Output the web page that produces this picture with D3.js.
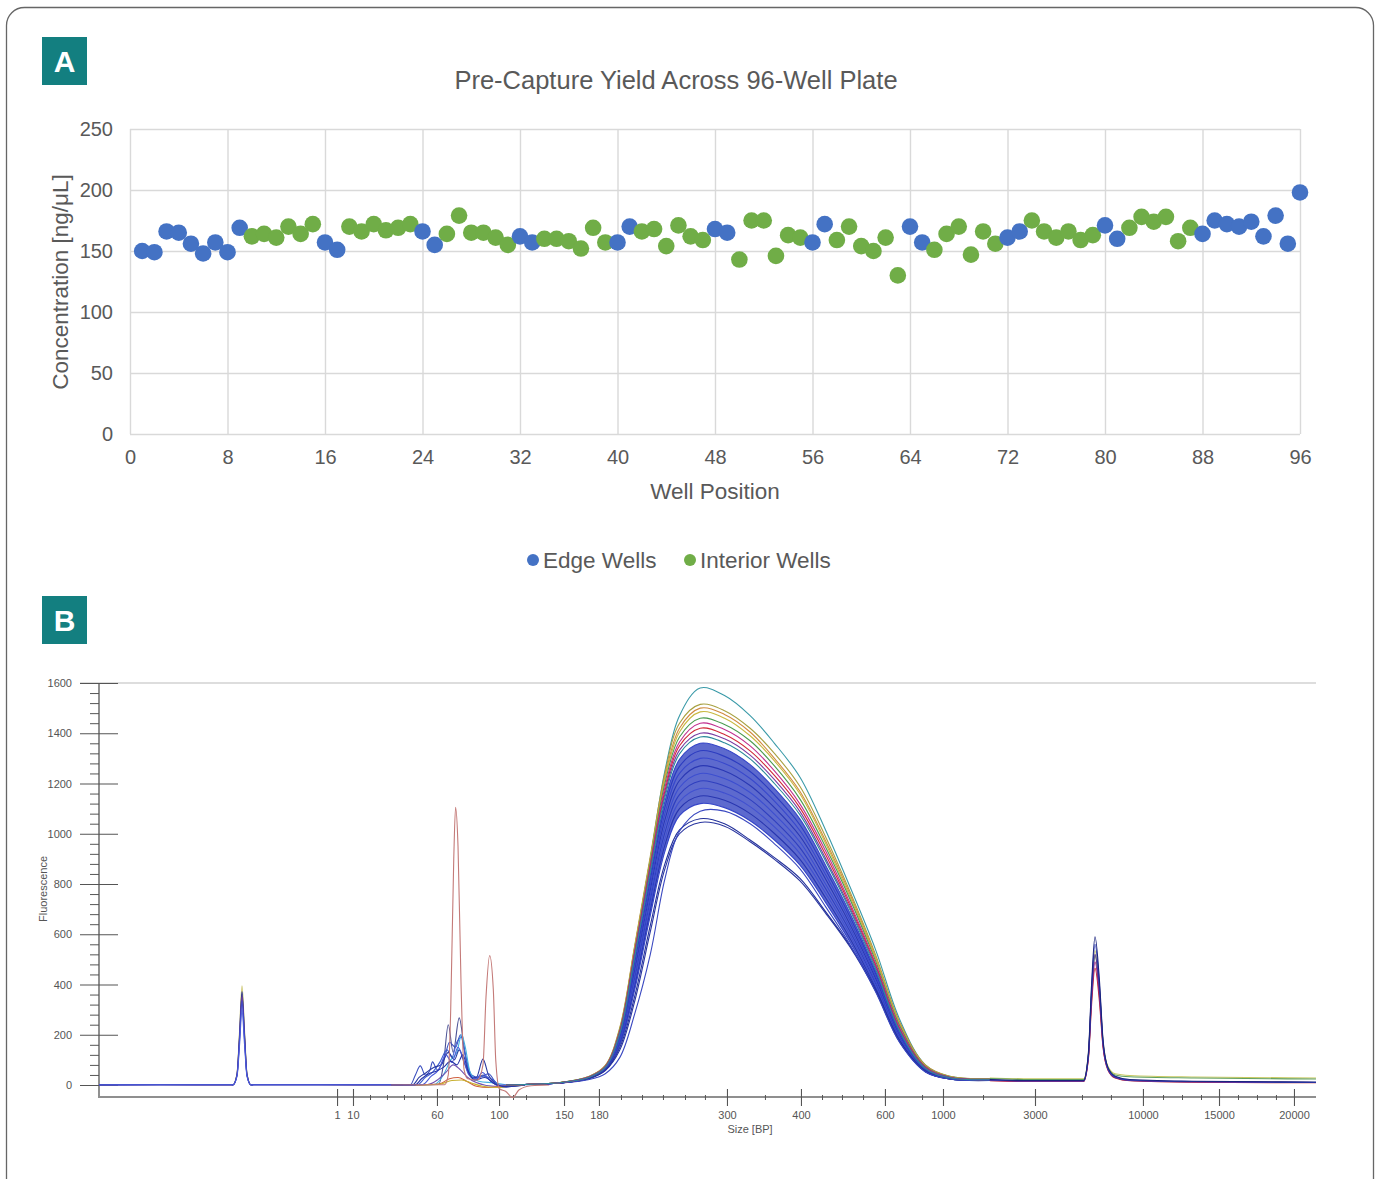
<!DOCTYPE html>
<html><head><meta charset="utf-8">
<script src="https://cdn.jsdelivr.net/npm/d3@7"></script>
<style>body{margin:0;background:#fff}svg{display:block}</style>
</head><body><svg id="c" width="1382" height="1179"></svg>
<script>
// ---------- Panel A data ----------
const wellTicks = [0,8,16,24,32,40,48,56,64,72,80,88,96];
const concTicks = [0,50,100,150,200,250];
const concentrations = [150,149,166,165,156,148,157,149,169, 162,164,161,170,164,172, 157,151,
  170,166,172,167,169,172, 166,155, 164,179,165,165,161,155, 162,157, 160,160,158,152,169,157,
  157,170, 166,168,154,171,162,159, 168,165, 143,175,175,146,163,161, 157,172,
  159,170,154,150,161,130, 170,157, 151,164,170,147,166,156, 161,166,
  175,166,161,166,159,163, 171,160, 169,178,174,178,158,169,
  164,175,172,170,174,162,179,156,198];
const edgeWells = [1,2,3,4,5,6,7,8,9,16,17,24,25,32,33,40,41,48,49,56,57,64,65,72,73,80,81,88,89,90,91,92,93,94,95,96];
const seriesNames = ["Edge Wells","Interior Wells"];

// ---------- Panel B data ----------
const ladderSizes = ["1","10","60","100","150","180","300","400","600","1000","3000","10000","15000","20000"];
const ladderTimes = [19.56,20.87,27.77,32.87,38.21,41.08,51.6,57.68,64.58,69.35,76.91,85.78,92.03,98.19];
const minorTimes = [22.27,23.66,25.06,26.46,29.01,30.32,31.88,34.02,35.09,42.89,44.62,46.34,48.15,49.79,
  54.72,59.41,61.05,62.78,67.63,72.64,80.77,83.15,87.43,88.99,90.55,93.59,95.15,96.71];
const fluorTicks = [0,200,400,600,800,1000,1200,1400,1600];

// lower marker traces
const lmT = [0,5,10.9,11.0,11.34,11.55,11.75,11.96,12.16,12.49,12.7,18,24,26];
const lmValues = [
  [1,2,1,0,45,215,395,215,45,0,2,2,1,1],
  [1,1,1,0,42,200,372,200,42,0,1,1,1,1],
  [0,1,0,0,40,190,355,190,40,0,1,1,0,0],
  [1,1,1,0,38,180,335,180,38,0,1,1,1,1],
  [0,1,1,0,34,160,300,160,34,0,1,1,1,1]
];
const lmColors = ["#c8c060","#1d2a8a","#6a3a9a","#3344cc","#4a5ad8"];

// primer-dimer region traces [time, fluorescence]
const dimerTraces = [
  [[24,0],[27.9,2],[28.3,80],[28.7,240],[29.1,130],[29.6,267],[30.0,150],[30.4,50],[30.9,20],[31.55,40],[32.2,15],[32.9,-5],[34,0]],
  [[24,0],[25.6,2],[26.0,40],[26.4,76],[26.8,40],[27.2,60],[27.4,92],[27.8,60],[28.4,110],[28.8,170],[29.3,150],[29.7,200],[30.1,120],[30.6,40],[31.2,30],[32.0,45],[32.6,10],[33.2,-8],[34.5,0]],
  [[24,0],[26.2,2],[26.8,30],[27.4,50],[28.0,90],[28.6,140],[29.0,110],[29.4,170],[29.8,190],[30.2,90],[30.8,30],[31.6,35],[32.4,20],[33.0,-5],[34.5,0]],
  [[25,0],[27.5,2],[28.3,40],[28.9,100],[29.4,130],[29.8,200],[30.1,150],[30.5,50],[31.2,15],[32.5,8],[33.5,0]],
  [[24,0],[25.8,2],[26.3,30],[26.9,50],[27.5,70],[28.1,80],[28.7,130],[29.2,100],[29.6,140],[30.0,90],[30.6,30],[31.0,30],[31.55,103],[32.0,40],[32.6,5],[33.2,-8],[35,0]],
  [[25,0],[27,2],[27.8,20],[28.5,50],[29.1,80],[29.7,60],[30.3,30],[31,10],[32.5,-5],[34,0]],
  [[26,0],[28,5],[28.8,25],[29.5,30],[30.2,15],[31,-5],[32,-10],[33,-5],[34,0]],
  [[26,0],[28,3],[29,18],[29.8,20],[30.6,8],[31.5,-5],[32.8,-10],[34,0]],
  [[24,0],[26.6,2],[27.3,35],[27.9,60],[28.5,120],[29.0,90],[29.5,150],[29.9,110],[30.4,40],[31.0,25],[31.5,50],[32.1,20],[32.8,0],[34,0]],
  [[24,0],[26.0,1],[26.5,25],[27.1,45],[27.7,55],[28.3,70],[28.9,95],[29.4,80],[29.9,120],[30.3,60],[30.9,20],[31.7,30],[32.5,5],[33.3,-6],[35,0]],
  [[24,0],[28.4,1],[28.7,40],[28.9,300],[29.15,900],[29.3,1105],[29.5,950],[29.75,400],[30.0,60],[30.3,25],[31.1,20],[31.55,80],[31.8,350],[32.1,515],[32.4,380],[32.6,100],[32.9,-15],[33.4,-25],[34.0,-50],[34.5,-20],[35.5,-3],[37,0]]
];
const dimerColors = ["#4a5296","#3a4fc0","#4060d0","#40b0e0","#2a3aa0","#7050b0","#d06040","#c8b030","#4a5ad8","#2633a8","#c47a78"];

// library smear traces
const smearT = [33.5,36.0,37.9,40.3,41.6,42.8,44.0,45.3,46.5,47.7,49.4,51.4,53.5,55.5,57.6,59.7,61.7,63.8,65.8,67.9,69.9,73.2];
const blueSmear = [
  [0,4,9,31,69,200,495,835,1128,1296,1360,1338,1275,1180,1058,875,685,455,210,64,28,21],
  [0,4,9,30,68,195,480,815,1105,1268,1330,1308,1248,1155,1035,857,670,445,205,62,28,20],
  [0,4,9,30,67,190,465,795,1080,1240,1300,1280,1220,1130,1012,838,655,435,200,60,27,20],
  [0,4,8,29,66,185,450,775,1055,1212,1270,1250,1192,1104,990,820,640,425,195,58,27,20],
  [0,4,8,29,65,180,435,755,1030,1184,1240,1220,1164,1078,967,800,626,415,190,57,26,19],
  [0,4,8,28,64,175,420,735,1005,1156,1210,1190,1136,1052,944,782,612,405,185,56,26,19],
  [0,4,8,28,63,170,405,715,980,1128,1180,1162,1108,1027,921,764,598,396,180,55,25,19],
  [0,4,8,27,62,165,390,695,955,1100,1150,1133,1080,1001,898,745,584,387,176,54,25,18],
  [0,4,8,27,61,160,375,675,930,1072,1120,1104,1052,975,875,727,570,378,172,53,24,18],
  [0,3,8,26,58,150,350,635,880,1015,1060,1040,975,905,822,690,555,380,175,56,24,18],
  [0,3,8,26,57,140,330,610,860,1000,1045,1030,968,898,812,684,550,375,170,54,24,18],
  [0,3,8,22,45,110,280,520,820,1010,1090,1090,1040,960,860,710,560,372,168,52,24,18]
];
const blueColors = ["#3545c8","#2c3cc0","#3848cc","#2a38b4","#3c4ed0","#2f3fbf","#4050d0","#2836b0","#3545c8","#22309a","#28349f","#3a48c0"];
const colorSmear = [
  [0,4,10,35,75,220,540,900,1250,1470,1580,1550,1470,1360,1225,1015,790,540,260,80,35,25],
  [0,4,10,35,78,230,550,910,1240,1440,1515,1490,1420,1320,1188,988,770,520,250,80,35,26],
  [0,4,10,34,76,225,545,900,1225,1420,1500,1475,1405,1300,1168,972,760,510,245,78,34,25],
  [0,4,10,34,75,222,540,895,1215,1405,1485,1460,1390,1290,1158,962,750,505,240,75,33,24],
  [0,4,10,33,74,220,530,885,1200,1385,1460,1435,1370,1270,1138,947,740,495,235,74,32,24],
  [0,4,9,33,73,215,525,875,1185,1365,1440,1415,1350,1250,1118,932,725,485,228,72,31,23],
  [0,4,9,32,72,212,520,865,1170,1350,1420,1395,1330,1232,1103,917,715,478,222,70,30,22],
  [0,4,9,32,71,210,515,858,1158,1333,1400,1378,1313,1215,1088,902,705,470,218,68,30,22],
  [0,4,9,31,70,205,505,848,1145,1318,1385,1362,1298,1200,1075,892,697,463,214,66,29,21]
];
const colorColors = ["#3a9aa8","#a8a040","#d08a40","#c8b840","#4a9a50","#c03090","#d02838","#7a3aa0","#2a8a9a"];

// upper marker traces
const umT = [73.2,76,80.9,81.3,81.56,81.84,82.2,82.5,82.9,83.5,84.7,90,100];
const umValues = [
  [28,25,25,125,370,535,390,175,75,45,38,32,28],
  [26,22,22,118,355,515,375,165,70,40,33,28,24],
  [17,14,14,105,320,465,335,150,60,28,17,11,9],
  [18,15,15,110,340,490,355,155,62,30,18,12,10],
  [20,16,16,115,360,520,380,165,65,30,18,13,10],
  [20,17,17,120,380,560,400,170,65,32,20,14,10],
  [22,18,18,130,400,590,420,180,70,35,22,15,12]
];
const umColors = ["#c8c860","#60a060","#c03030","#a02080","#5a2a90","#3040c0","#1a237e"];

// ---------- drawing ----------
const FONT = "'Liberation Sans', Arial, Helvetica, sans-serif";
const svg = d3.select("#c");
svg.append("rect").attr("x",6.5).attr("y",7.5).attr("width",1367).attr("height",1200)
  .attr("rx",18).attr("fill","#fff").attr("stroke","#666").attr("stroke-width",1.3);

function badge(y, label){
  svg.append("rect").attr("x",42).attr("y",y).attr("width",45).attr("height",48).attr("fill","#137f80");
  svg.append("text").attr("x",64.5).attr("y",y+35).attr("text-anchor","middle")
    .attr("font-family",FONT).attr("font-weight","bold").attr("font-size",30).attr("fill","#fff").text(label);
}
badge(37,"A"); badge(596,"B");

// Panel A
const xA = d3.scaleLinear().domain([0,96]).range([130,1300]);
const yA = d3.scaleLinear().domain([0,250]).range([434,129]);
const colorA = d3.scaleOrdinal().domain(seriesNames).range(["#4472C4","#70AD47"]);

svg.append("text").attr("x",676).attr("y",89).attr("text-anchor","middle")
  .attr("font-family",FONT).attr("font-size",25.5).attr("fill","#595959")
  .text("Pre-Capture Yield Across 96-Well Plate");

const gyA = svg.append("g").attr("transform","translate(130,0)")
  .call(d3.axisLeft(yA).tickValues(concTicks).tickSize(-(1300-130)).tickPadding(17));
const gxA = svg.append("g").attr("transform","translate(0,434)")
  .call(d3.axisBottom(xA).tickValues(wellTicks).tickSize(-(434-129)).tickPadding(16));
[gyA,gxA].forEach(g=>{
  g.select(".domain").remove();
  g.selectAll("line").attr("stroke","#d9d9d9").attr("stroke-width",1.4);
  g.selectAll("text").attr("fill","#595959").attr("font-size",20).attr("font-family",FONT);
});

svg.append("text").attr("transform","translate(68,282) rotate(-90)").attr("text-anchor","middle")
  .attr("font-family",FONT).attr("font-size",22.5).attr("fill","#595959").text("Concentration [ng/μL]");
svg.append("text").attr("x",715).attr("y",499).attr("text-anchor","middle")
  .attr("font-family",FONT).attr("font-size",22.5).attr("fill","#595959").text("Well Position");

const wells = concentrations.map((c,i)=>({well:i+1, conc:c, type: edgeWells.includes(i+1)?seriesNames[0]:seriesNames[1]}));
svg.append("g").selectAll("circle").data(wells).join("circle")
  .attr("cx",d=>xA(d.well)).attr("cy",d=>yA(d.conc)).attr("r",8.3)
  .attr("fill",d=>colorA(d.type));

// legend
const legX = [533,690];
seriesNames.forEach((n,i)=>{
  svg.append("circle").attr("cx",legX[i]).attr("cy",560).attr("r",6).attr("fill",colorA(n));
  svg.append("text").attr("x",legX[i]+10).attr("y",568).attr("font-family",FONT)
    .attr("font-size",22.5).attr("fill","#595959").text(n);
});

// Panel B
const xB = d3.scaleLinear().domain([0,100]).range([99,1316]);
const yB = d3.scaleLinear().domain([0,1600]).range([1085,683]);

svg.append("line").attr("x1",80).attr("x2",1316).attr("y1",683).attr("y2",683).attr("stroke","#bbb").attr("stroke-width",1.2);

const gyB = svg.append("g").attr("transform","translate(118,0)")
  .call(d3.axisLeft(yB).tickValues(fluorTicks).tickFormat(d3.format("d")).tickSize(38).tickPadding(8));
gyB.select(".domain").remove();
gyB.selectAll("line").attr("stroke","#555").attr("stroke-width",1.1);
gyB.selectAll("text").attr("fill","#555").attr("font-size",11).attr("font-family",FONT);

const fluorMinor = d3.range(0,1601,40).filter(v=>v%200!==0);
const gyBm = svg.append("g").attr("transform","translate(99,0)")
  .call(d3.axisLeft(yB).tickValues(fluorMinor).tickSize(9).tickFormat(""));
gyBm.select(".domain").remove();
gyBm.selectAll("line").attr("stroke","#555");

svg.append("line").attr("x1",99).attr("x2",99).attr("y1",683).attr("y2",1098).attr("stroke","#555").attr("stroke-width",1.3);
svg.append("line").attr("x1",99).attr("x2",1316).attr("y1",1097).attr("y2",1097).attr("stroke","#8f8f8f").attr("stroke-width",2.2);

const gxB = svg.append("g").attr("transform","translate(0,1089)")
  .call(d3.axisBottom(xB).tickValues(ladderTimes).tickFormat((d,i)=>ladderSizes[i]).tickSize(17).tickPadding(5));
gxB.select(".domain").remove();
gxB.selectAll("line").attr("stroke","#555").attr("stroke-width",1.1);
gxB.selectAll("text").attr("fill","#555").attr("font-size",11).attr("font-family",FONT);

const gxBm = svg.append("g").attr("transform","translate(0,1095)")
  .call(d3.axisBottom(xB).tickValues(minorTimes).tickSize(5).tickFormat(""));
gxBm.select(".domain").remove();
gxBm.selectAll("line").attr("stroke","#555");

svg.append("text").attr("x",750).attr("y",1133).attr("text-anchor","middle")
  .attr("font-family",FONT).attr("font-size",11).attr("fill","#555").text("Size [BP]");
svg.append("text").attr("transform","translate(47,889) rotate(-90)").attr("text-anchor","middle")
  .attr("font-family",FONT).attr("font-size",11).attr("fill","#555").text("Fluorescence");

const lineB = d3.line().x(d=>xB(d[0])).y(d=>yB(d[1])).curve(d3.curveMonotoneX);
const lineS = d3.line().x(d=>xB(d[0])).y(d=>yB(d[1])).curve(d3.curveCatmullRom.alpha(0.5));
const traces = svg.append("g").attr("fill","none").attr("stroke-width",1.1).attr("stroke-linejoin","round");
function drawSet(times, valueSets, colors, gen){
  valueSets.forEach((vals,i)=>{
    traces.append("path").attr("d",gen(times.map((t,j)=>[t,vals[j]]))).attr("stroke",colors[i]);
  });
}
// dense blue band between lowest main-mass trace and highest blue trace
const band = d3.area().x((d,i)=>xB(smearT[i])).y0(d=>yB(d[0])).y1(d=>yB(d[1])).curve(d3.curveCatmullRom.alpha(0.5));
traces.append("path").attr("d",band(smearT.map((t,i)=>[blueSmear[8][i],blueSmear[0][i]])))
  .attr("fill","#3040c0").attr("fill-opacity",0.78).attr("stroke","none");

drawSet(lmT, lmValues, lmColors, lineB);
dimerTraces.forEach((pts,i)=>traces.append("path").attr("d",lineB(pts)).attr("stroke",dimerColors[i]));
drawSet(smearT, blueSmear, blueColors, lineS);
drawSet(smearT, colorSmear, colorColors, lineS);
drawSet(umT, umValues, umColors, lineB);
</script></body></html>
